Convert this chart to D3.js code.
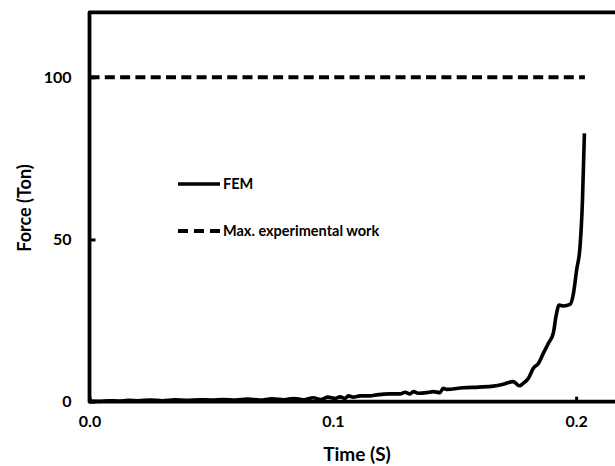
<!DOCTYPE html>
<html>
<head>
<meta charset="utf-8">
<script src="https://cdn.jsdelivr.net/npm/d3@7"></script>
<style>
  body { margin: 0; background: #fff; }
  text { font-family: Lato, "Open Sans", sans-serif; font-weight: bold; fill: #000; }
</style>
</head>
<body>
<div id="chart"></div>
<script>
// ======================================
// Data
// ======================================
var femTime = [0, 0.004, 0.008, 0.012, 0.016, 0.02, 0.025, 0.03, 0.035, 0.04, 0.045, 0.05,
  0.055, 0.06, 0.065, 0.07, 0.075, 0.08, 0.084, 0.088, 0.092, 0.095, 0.098, 0.1009,
  0.103, 0.105, 0.1064, 0.1084, 0.1112, 0.1153, 0.118, 0.1235, 0.1276, 0.1297, 0.1317,
  0.1331, 0.1351, 0.1386, 0.1413, 0.144, 0.1454, 0.1468, 0.1536, 0.16, 0.166, 0.1701,
  0.1742, 0.1767, 0.1783, 0.1804, 0.1824, 0.1845, 0.1865, 0.1886, 0.1906, 0.1917,
  0.193, 0.1947, 0.1975, 0.1989, 0.2002, 0.2016, 0.2026, 0.2034];
var femForce = [0.2, 0.1, 0.3, 0.2, 0.4, 0.3, 0.5, 0.3, 0.6, 0.4, 0.6, 0.5,
  0.7, 0.5, 0.8, 0.5, 0.9, 0.6, 1.0, 0.6, 1.2, 0.7, 1.4, 1.0,
  1.5, 1.0, 1.8, 1.4, 1.8, 1.8, 2.1, 2.4, 2.4, 2.9, 2.4,
  3.1, 2.6, 2.8, 3.1, 2.8, 4.1, 3.8, 4.3, 4.5, 4.8, 5.4,
  6.2, 4.9, 5.7, 7.2, 10.3, 11.8, 14.9, 18.0, 21.1, 26.2,
  29.8, 29.5, 30.0, 33.4, 40.6, 47.8, 62, 82.7];

var maxExpTime = [0, 0.2036];
var maxExpForce = [100, 100];

var xTicks = [0, 0.1, 0.2];
var yTicks = [0, 50, 100];

var legendNames = ["FEM", "Max. experimental work"];

// ======================================
// Setup
// ======================================
var svgWidth = 615;
var svgHeight = 466;

var svg = d3.select("#chart")
  .append("svg")
  .attr("width", svgWidth)
  .attr("height", svgHeight);

var xScale = d3.scaleLinear().domain([0, 0.22]).range([89.5, 624.8]);
var yScale = d3.scaleLinear().domain([0, 120]).range([401.7, 12.4]);

var x0 = xScale(0), y0 = yScale(0), yTop = yScale(120);

// plot frame (left, top, bottom - right edge falls off the picture)
svg.append("path")
  .attr("d", `M${svgWidth + 5},${yTop} H${x0} V${y0} H${svgWidth + 5}`)
  .attr("fill", "none")
  .attr("stroke", "#000")
  .attr("stroke-width", 3.8)
  .attr("stroke-linejoin", "round");

// inward ticks
var bottomAxis = d3.axisBottom(xScale)
  .tickValues(xTicks)
  .tickSizeInner(-5)
  .tickSizeOuter(0)
  .tickPadding(14)
  .tickFormat(d3.format(".1f"));

var leftAxis = d3.axisLeft(yScale)
  .tickValues(yTicks)
  .tickSizeInner(-6)
  .tickSizeOuter(0)
  .tickPadding(18)
  .tickFormat(d3.format("d"));

var xAxis = svg.append("g")
  .attr("transform", `translate(0, ${y0})`)
  .call(bottomAxis);
xAxis.select(".domain").remove();
xAxis.selectAll("line").attr("stroke-width", 3);
xAxis.selectAll("text").style("font-size", "16px");

var yAxis = svg.append("g")
  .attr("transform", `translate(${x0}, 0)`)
  .call(leftAxis);
yAxis.select(".domain").remove();
yAxis.selectAll("line").attr("stroke-width", 3);
yAxis.selectAll("text").style("font-size", "16px");

// axis titles
svg.append("text")
  .attr("x", 357)
  .attr("y", 461)
  .attr("text-anchor", "middle")
  .style("font-size", "19px")
  .text("Time (S)");

svg.append("text")
  .attr("transform", `translate(31, 208) rotate(-90)`)
  .attr("text-anchor", "middle")
  .style("font-size", "18px")
  .text("Force (Ton)");

// ======================================
// Series
// ======================================
var line = d3.line()
  .x(d => xScale(d[0]))
  .y(d => yScale(d[1]))
  .curve(d3.curveMonotoneX);

svg.append("path")
  .datum(d3.zip(maxExpTime, maxExpForce))
  .attr("d", d3.line().x(d => xScale(d[0])).y(d => yScale(d[1])))
  .attr("fill", "none")
  .attr("stroke", "#000")
  .attr("stroke-width", 4)
  .attr("stroke-dasharray", "10,5.3");

svg.append("path")
  .datum(d3.zip(femTime, femForce))
  .attr("d", line)
  .attr("fill", "none")
  .attr("stroke", "#000")
  .attr("stroke-width", 3.6)
  .attr("stroke-linejoin", "round");

// ======================================
// Legend
// ======================================
var legend = svg.append("g").attr("transform", "translate(178, 184)");
legendNames.forEach((name, i) => {
  var row = legend.append("g").attr("transform", `translate(0, ${i * 47})`);
  row.append("line")
    .attr("x1", 0).attr("x2", 42)
    .attr("y1", 0).attr("y2", 0)
    .attr("stroke", "#000")
    .attr("stroke-width", i === 0 ? 3.6 : 4)
    .attr("stroke-dasharray", i === 0 ? null : "10,6");
  row.append("text")
    .attr("x", 45)
    .attr("y", 0)
    .attr("dy", "0.35em")
    .style("font-size", "14.5px")
    .text(name);
});
</script>
</body>
</html>
